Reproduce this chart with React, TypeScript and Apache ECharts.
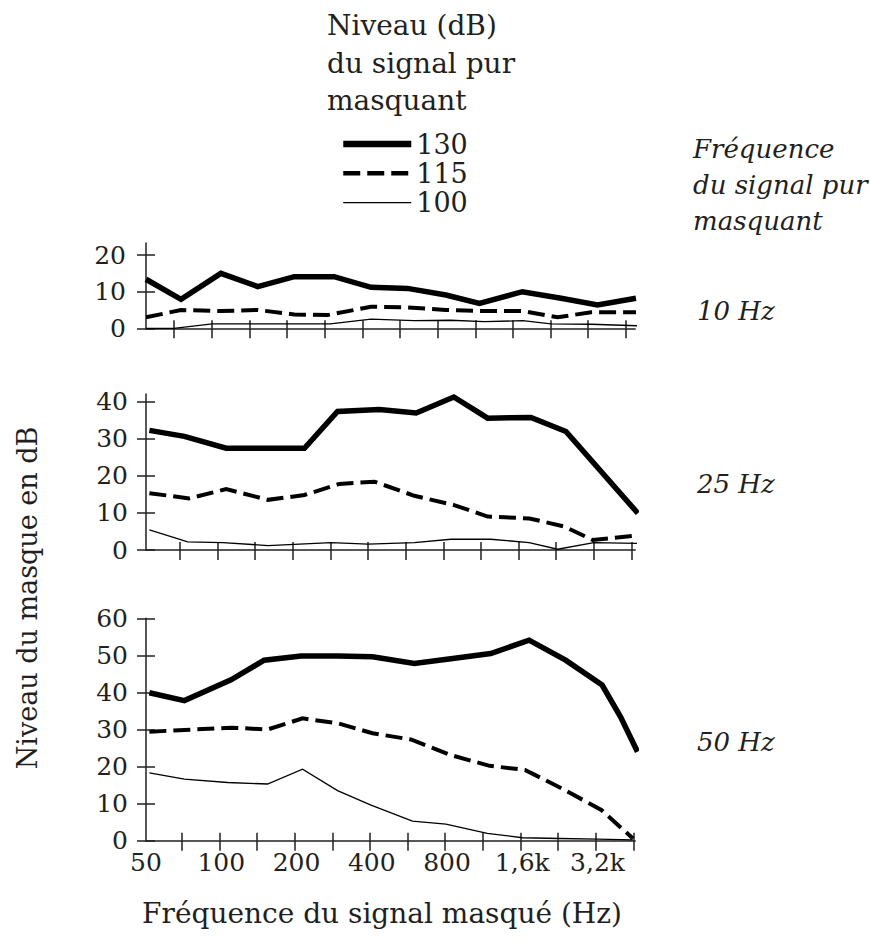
import React, { useEffect, useRef } from 'react';
import * as echarts from 'echarts';

const FONT = '"DejaVu Serif", serif';
const INK = '#231f20';

const seriesNames = ['130', '115', '100'];
const xTickLabels = ['50', '100', '200', '400', '800', '1,6k', '3,2k'];
const xTickLabelPositions = [0, 2, 4, 6, 8, 10, 12];
const xTickIndices = [1, 2, 3, 4, 5, 6, 7, 8, 9, 10, 11, 12, 13];
const panelLabels = ['10 Hz', '25 Hz', '50 Hz'];
const yTicksTop = [0, 10, 20];
const yTicksMid = [0, 10, 20, 30, 40];
const yTicksBot = [0, 10, 20, 30, 40, 50, 60];

// Panel 1: masker 10 Hz  ([position on the half-octave scale, level dB])
const top130 = [[0, 13.4], [0.93, 7.9], [1.99, 15.0], [2.97, 11.4], [3.94, 14.1], [5.0, 14.1], [5.98, 11.2], [6.95, 10.9], [7.97, 9.1], [8.86, 6.8], [10.0, 10.0], [11.03, 8.2], [12.0, 6.4], [13.02, 8.2]];
const top115 = [[0, 3.0], [0.93, 5.0], [1.99, 4.7], [2.97, 5.0], [3.94, 3.8], [4.82, 3.6], [5.98, 5.9], [6.95, 5.7], [7.97, 5.0], [8.99, 4.7], [10.01, 4.7], [10.94, 3.0], [11.83, 4.4], [13.02, 4.4]];
const top100 = [[0, 0], [0.74, 0], [1.76, 1.2], [4.9, 1.2], [5.98, 2.5], [7.13, 2.1], [8.1, 2.2], [8.99, 1.8], [10.01, 2.1], [10.76, 1.2], [11.83, 1.1], [13.05, 0.7]];

// Panel 2: masker 25 Hz
const mid130 = [[0.09, 32.2], [1.02, 30.6], [2.13, 27.4], [4.21, 27.4], [5.09, 37.3], [6.2, 37.8], [7.18, 36.9], [8.18, 41.2], [9.08, 35.5], [10.23, 35.7], [11.16, 31.9], [13.07, 9.9]];
const mid115 = [[0.09, 15.3], [1.15, 13.9], [2.13, 16.4], [3.24, 13.5], [4.21, 14.8], [5.14, 17.8], [6.07, 18.4], [7.13, 14.6], [8.19, 12.1], [9.08, 9.0], [10.19, 8.5], [11.12, 6.3], [11.87, 2.7], [13.11, 4.0]];
const mid100 = [[0.09, 5.4], [1.11, 2.2], [2.04, 2.0], [3.24, 1.2], [4.92, 2.0], [5.9, 1.6], [7.13, 2.0], [8.1, 2.9], [9.16, 2.9], [10.18, 2.0], [10.94, 0.2], [11.9, 2.0], [13.07, 1.8]];

// Panel 3: masker 50 Hz
const bot130 = [[0.09, 39.9], [1.02, 37.8], [2.26, 43.4], [3.14, 48.7], [4.12, 49.8], [5.09, 49.8], [6.02, 49.6], [7.13, 47.8], [8.1, 49.1], [9.16, 50.5], [10.18, 54.1], [11.15, 48.7], [12.12, 42.0], [12.61, 33.4], [13.06, 24.0]];
const bot115 = [[0.09, 29.4], [2.26, 30.5], [3.23, 30.0], [4.16, 33.0], [5.09, 31.7], [6.02, 29.0], [7.04, 27.3], [8.1, 23.1], [9.13, 20.2], [10.07, 19.1], [11.05, 14.1], [12.1, 8.3], [12.94, 0.6]];
const bot100 = [[0.09, 18.3], [1.02, 16.6], [2.17, 15.7], [3.23, 15.3], [4.16, 19.3], [5.09, 13.5], [5.98, 9.6], [7.08, 5.3], [7.97, 4.5], [9.07, 2.0], [10.0, 0.8], [11.0, 0.6], [12.0, 0.4], [12.94, 0.2]];

const panelData = [
  [top130, top115, top100],
  [mid130, mid115, mid100],
  [bot130, bot115, bot100],
];
const panelYTicks = [yTicksTop, yTicksMid, yTicksBot];

// layout (pixels)
const GRID_LEFT = 146;
const GRID_WIDTH = 489.2;
const layout = [
  { top: 243, height: 85.3, max: 23.3, tickShift: -0.25, labelY: 311 },
  { top: 394, height: 156, max: 42, tickShift: -0.1, labelY: 484 },
  { top: 618.3, height: 222.4, max: 60, tickShift: -0.05, labelY: 742 },
];

const lineStyles = [
  { width: 5.5, legendWidth: 6.5, type: 'solid' as any },
  { width: 4, legendWidth: 4.5, type: [17, 7] as any },
  { width: 1.3, legendWidth: 1.3, type: 'solid' as any },
];

export default function App() {
  const ref = useRef<HTMLDivElement>(null);

  useEffect(() => {
    if (!ref.current) return;
    const chart = echarts.init(ref.current, null, { renderer: 'svg' });

    const axisLineStyle = { color: INK, width: 1.5 };
    const grid: any[] = [];
    const xAxis: any[] = [];
    const yAxis: any[] = [];
    const series: any[] = [];

    layout.forEach((p, i) => {
      grid.push({ left: GRID_LEFT, width: GRID_WIDTH, top: p.top, height: p.height, containLabel: false });
      const tickVals = xTickIndices.map((k) => k + p.tickShift);
      const isBottom = i === 2;
      xAxis.push({
        gridIndex: i, type: 'value', min: 0, max: 13, position: 'bottom',
        axisLine: { show: true, onZero: false, lineStyle: axisLineStyle },
        axisTick: { show: true, inside: false, length: 10, customValues: tickVals, lineStyle: axisLineStyle },
        axisLabel: isBottom
          ? {
              show: true, customValues: xTickLabelPositions, margin: 9,
              fontFamily: FONT, fontSize: 25, color: INK,
              formatter: (v: number) => xTickLabels[xTickLabelPositions.indexOf(Math.round(v))] ?? '',
            }
          : { show: false },
        splitLine: { show: false },
      });
      xAxis.push({
        gridIndex: i, type: 'value', min: 0, max: 13, position: 'bottom',
        axisLine: { show: false, onZero: false },
        axisTick: { show: true, inside: true, length: 8, customValues: tickVals, lineStyle: axisLineStyle },
        axisLabel: { show: false },
        splitLine: { show: false },
      });
      const yt = panelYTicks[i];
      yAxis.push({
        gridIndex: i, type: 'value', min: 0, max: p.max, position: 'left',
        axisLine: { show: true, onZero: false, lineStyle: axisLineStyle },
        axisTick: { show: true, inside: false, length: 9, customValues: yt, lineStyle: axisLineStyle },
        axisLabel: { show: true, customValues: yt, margin: i === 0 ? 20 : 18, fontFamily: FONT, fontSize: 25, color: INK },
        splitLine: { show: false },
      });
      yAxis.push({
        gridIndex: i, type: 'value', min: 0, max: p.max, position: 'left',
        axisLine: { show: false, onZero: false },
        axisTick: { show: true, inside: true, length: 9, customValues: yt, lineStyle: axisLineStyle },
        axisLabel: { show: false },
        splitLine: { show: false },
      });
      panelData[i].forEach((data, s) => {
        series.push({
          type: 'line', name: seriesNames[s], xAxisIndex: 2 * i, yAxisIndex: 2 * i,
          data, symbol: 'none', clip: false, silent: true, color: '#000',
          lineStyle: { color: '#000', width: lineStyles[s].width, type: lineStyles[s].type, join: 'miter', cap: 'butt' },
        });
      });
    });

    const graphic: any[] = [
      {
        type: 'text', x: 327, y: 7,
        style: { text: 'Niveau (dB)\ndu signal pur\nmasquant', font: `28px ${FONT}`, lineHeight: 37.5, fill: INK, align: 'left', verticalAlign: 'top' },
      },
      {
        type: 'text', x: 693, y: 131,
        style: { text: 'Fréquence\ndu signal pur\nmasquant', font: `italic 26px ${FONT}`, lineHeight: 36, fill: INK, align: 'left', verticalAlign: 'top' },
      },
      {
        type: 'text', x: 27, y: 598, rotation: Math.PI / 2,
        style: { text: 'Niveau du masque en dB', font: `27px ${FONT}`, fill: INK, align: 'center', verticalAlign: 'middle' },
      },
      {
        type: 'text', x: 382, y: 913,
        style: { text: 'Fréquence du signal masqué (Hz)', font: `28px ${FONT}`, fill: INK, align: 'center', verticalAlign: 'middle' },
      },
      ...layout.map((p, i) => ({
        type: 'text', x: 697, y: p.labelY,
        style: { text: panelLabels[i], font: `italic 26px ${FONT}`, fill: INK, align: 'left', verticalAlign: 'middle' },
      })),
    ];

    chart.setOption({
      animation: false,
      backgroundColor: '#ffffff',
      grid, xAxis, yAxis, series, graphic,
      legend: {
        show: true, orient: 'vertical', left: 335, top: 124.5,
        itemWidth: 68, itemHeight: 14, itemGap: 0.3, selectedMode: false,
        textStyle: { fontFamily: FONT, fontSize: 27, lineHeight: 29, color: INK },
        itemStyle: { color: 'rgba(0,0,0,0)', borderWidth: 0, opacity: 0 },
        data: seriesNames.map((n, s) => ({
          name: n,
          itemStyle: { color: 'rgba(0,0,0,0)', borderWidth: 0, opacity: 0 },
          lineStyle: { width: lineStyles[s].legendWidth, type: lineStyles[s].type, color: '#000' },
        })),
      },
    });

    return () => chart.dispose();
  }, []);

  return <div ref={ref} style={{ position: 'absolute', left: 0, top: 0, width: 870, height: 940, background: '#fff' }} />;
}
